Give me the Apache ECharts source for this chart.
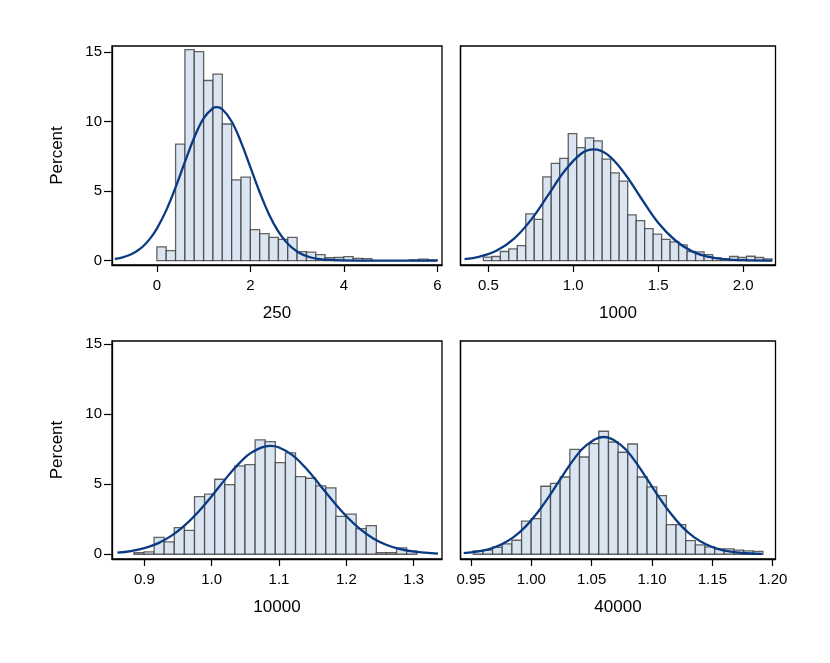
<!DOCTYPE html>
<html>
<head>
<meta charset="utf-8">
<script src="https://cdn.jsdelivr.net/npm/echarts@6.0.0/dist/echarts.min.js"></script>
<style>
  html, body { margin: 0; padding: 0; background: #fff; }
  #chart { width: 830px; height: 663px; }
</style>
</head>
<body>
<div id="chart"></div>
<script>
// panel titles (sample sizes)
const panelTitles = ['250', '1000', '10000', '40000'];

// y ticks shared by all panels (Percent)
const yTicks = [0, 5, 10, 15];

// x tick labels per panel
const xTicks250 = [0, 2, 4, 6];
const xTicks1000 = [0.5, 1.0, 1.5, 2.0];
const xTicks10000 = [0.9, 1.0, 1.1, 1.2, 1.3];
const xTicks40000 = [0.95, 1.00, 1.05, 1.10, 1.15, 1.20];

// histogram bins: first edge, bin width, percent in each bin
const binStart250 = 0;
const binWidth250 = 0.2;
const pct250 = [0.98, 0.72, 8.38, 15.17, 15.02, 12.95, 13.41, 9.82, 5.80, 6.00,
  2.22, 1.93, 1.66, 1.52, 1.66, 0.64, 0.60, 0.42, 0.20, 0.22,
  0.28, 0.16, 0.14, 0, 0, 0, 0, 0.05, 0.10, 0.05];

const binStart1000 = 0.4705;
const binWidth1000 = 0.05;
const pct1000 = [0.24, 0.29, 0.65, 0.84, 1.08, 3.35, 2.96, 6.02, 6.99, 7.35,
  9.13, 8.12, 8.82, 8.60, 7.30, 6.31, 5.71, 3.28, 2.87, 2.29,
  1.90, 1.52, 1.35, 1.13, 0.65, 0.63, 0.43, 0.19, 0.12, 0.29,
  0.22, 0.31, 0.22, 0.12];

const binStart10000 = 0.8845;
const binWidth10000 = 0.015;
const pct10000 = [0.12, 0.17, 1.21, 0.88, 1.90, 1.71, 4.12, 4.29, 5.36, 4.98,
  6.31, 6.40, 8.17, 8.05, 6.55, 7.24, 5.55, 5.43, 4.88, 4.74,
  2.71, 2.86, 1.83, 2.05, 0.12, 0.12, 0.45, 0.24];

const binStart40000 = 0.9519;
const binWidth40000 = 0.008;
const pct40000 = [0.24, 0.29, 0.50, 0.74, 1.00, 2.36, 2.55, 4.86, 5.07, 5.52,
  7.50, 6.95, 7.90, 8.79, 8.02, 7.29, 7.88, 5.52, 4.81, 4.19,
  2.12, 2.12, 0.98, 0.67, 0.52, 0.38, 0.38, 0.29, 0.24, 0.21];

// normal density overlay
const curve250 = [[-0.9, 0.12], [-0.75, 0.21], [-0.6, 0.38], [-0.45, 0.63], [-0.3, 1.01],
  [-0.15, 1.56], [0, 2.30], [0.2, 3.61], [0.4, 5.26], [0.6, 7.09], [0.8, 8.85],
  [1.0, 10.23], [1.2, 10.96], [1.28, 11.03], [1.4, 10.88], [1.6, 10.0], [1.8, 8.52],
  [2.0, 6.72], [2.2, 4.91], [2.4, 3.32], [2.6, 2.08], [2.8, 1.21], [3.0, 0.65],
  [3.15, 0.39], [3.3, 0.22], [3.45, 0.12], [3.6, 0.06], [4.0, 0.01], [4.5, 0],
  [5.0, 0], [6.0, 0]];

const curve1000 = [[0.36, 0.11], [0.45, 0.29], [0.55, 0.72], [0.65, 1.56], [0.75, 2.91],
  [0.85, 4.67], [0.95, 6.46], [1.05, 7.72], [1.12, 8.0], [1.2, 7.63], [1.3, 6.30],
  [1.4, 4.48], [1.5, 2.72], [1.6, 1.46], [1.7, 0.66], [1.8, 0.26], [1.9, 0.09],
  [2.0, 0.03], [2.17, 0]];

const curve10000 = [[0.86, 0.11], [0.88, 0.23], [0.90, 0.44], [0.92, 0.78], [0.94, 1.31],
  [0.96, 2.06], [0.98, 3.02], [1.00, 4.15], [1.02, 5.35], [1.04, 6.46], [1.06, 7.29],
  [1.087, 7.74], [1.10, 7.63], [1.12, 7.08], [1.14, 6.14], [1.16, 4.99], [1.18, 3.80],
  [1.20, 2.71], [1.22, 1.81], [1.24, 1.13], [1.26, 0.66], [1.28, 0.36], [1.30, 0.19],
  [1.336, 0.05]];

const curve40000 = [[0.944, 0.08], [0.955, 0.19], [0.965, 0.37], [0.975, 0.70], [0.985, 1.21],
  [0.995, 1.96], [1.005, 2.96], [1.015, 4.17], [1.025, 5.49], [1.035, 6.76], [1.045, 7.75],
  [1.060, 8.38], [1.075, 7.75], [1.085, 6.76], [1.095, 5.49], [1.105, 4.17], [1.115, 2.96],
  [1.125, 1.96], [1.135, 1.21], [1.145, 0.70], [1.155, 0.37], [1.165, 0.19], [1.175, 0.09],
  [1.191, 0.02]];

const barFill = '#dbe5f1';
const barEdge = 'rgba(60,60,60,0.8)';
const curveColor = '#0a3a82';
const font = 'Liberation Sans, Arial, sans-serif';

const panels = [
  { title: panelTitles[0], start: binStart250, width: binWidth250, pct: pct250, curve: curve250,
    ticks: xTicks250, dec: 0, xMin: -0.96, xMax: 6.10, yMin: -0.32, yMax: 15.43,
    grid: { left: 112, top: 46, width: 330, height: 219 }, left: true },
  { title: panelTitles[1], start: binStart1000, width: binWidth1000, pct: pct1000, curve: curve1000,
    ticks: xTicks1000, dec: 1, xMin: 0.336, xMax: 2.191, yMin: -0.32, yMax: 15.43,
    grid: { left: 460.5, top: 46, width: 315, height: 219 }, left: false },
  { title: panelTitles[2], start: binStart10000, width: binWidth10000, pct: pct10000, curve: curve10000,
    ticks: xTicks10000, dec: 1, xMin: 0.852, xMax: 1.342, yMin: -0.34, yMax: 15.24,
    grid: { left: 112, top: 341, width: 330, height: 218 }, left: true },
  { title: panelTitles[3], start: binStart40000, width: binWidth40000, pct: pct40000, curve: curve40000,
    ticks: xTicks40000, dec: 2, xMin: 0.9413, xMax: 1.2023, yMin: -0.34, yMax: 15.24,
    grid: { left: 460.5, top: 341, width: 315, height: 218 }, left: false }
];

const renderBar = (params, api) => {
  const x0 = api.value(0), x1 = api.value(1), h = api.value(2);
  if (!(h > 0)) return;
  const p0 = api.coord([x0, h]);
  const p1 = api.coord([x1, 0]);
  return {
    type: 'rect',
    shape: { x: p0[0], y: p0[1], width: p1[0] - p0[0], height: p1[1] - p0[1] },
    style: { fill: barFill, stroke: barEdge, lineWidth: 1.3 }
  };
};

const grid = [], xAxis = [], yAxis = [], series = [];
panels.forEach((p, i) => {
  grid.push(Object.assign({ show: true, borderColor: '#000', borderWidth: 1.3,
    backgroundColor: 'transparent' }, p.grid));

  xAxis.push({
    type: 'value', gridIndex: i, min: p.xMin, max: p.xMax,
    name: p.title, nameLocation: 'middle', nameGap: 40,
    nameTextStyle: { fontSize: 17, color: '#000', fontFamily: font },
    axisLine: { show: true, onZero: false, lineStyle: { color: '#000', width: 1.3 } },
    axisTick: { show: true, length: 7, customValues: p.ticks, lineStyle: { color: '#000', width: 1.2 } },
    axisLabel: { show: true, customValues: p.ticks, margin: 13, fontSize: 15, color: '#000',
      fontFamily: font, formatter: v => Number(v).toFixed(p.dec) },
    splitLine: { show: false }
  });

  yAxis.push({
    type: 'value', gridIndex: i, min: p.yMin, max: p.yMax,
    name: p.left ? 'Percent' : '', nameLocation: 'middle', nameGap: 46,
    nameTextStyle: { fontSize: 17, color: '#000', fontFamily: font },
    axisLine: { show: true, onZero: false, lineStyle: { color: '#000', width: 1.3 } },
    axisTick: { show: p.left, length: 8, customValues: yTicks, lineStyle: { color: '#000', width: 1.2 } },
    axisLabel: { show: p.left, customValues: yTicks, margin: 10, fontSize: 15, color: '#000',
      fontFamily: font },
    splitLine: { show: false }
  });

  const bins = p.pct.map((v, k) => [p.start + k * p.width, p.start + (k + 1) * p.width, v]);
  series.push({
    type: 'custom', xAxisIndex: i, yAxisIndex: i, renderItem: renderBar,
    encode: { x: [0, 1], y: 2 }, data: bins, silent: true, z: 2
  });
  series.push({
    type: 'line', xAxisIndex: i, yAxisIndex: i, data: p.curve, smooth: 0.4,
    showSymbol: false, symbol: 'none', silent: true, z: 3,
    lineStyle: { color: curveColor, width: 2.3 }
  });
});

const chart = echarts.init(document.getElementById('chart'));
chart.setOption({
  animation: false,
  backgroundColor: '#fff',
  grid, xAxis, yAxis, series
});
</script>
</body>
</html>
